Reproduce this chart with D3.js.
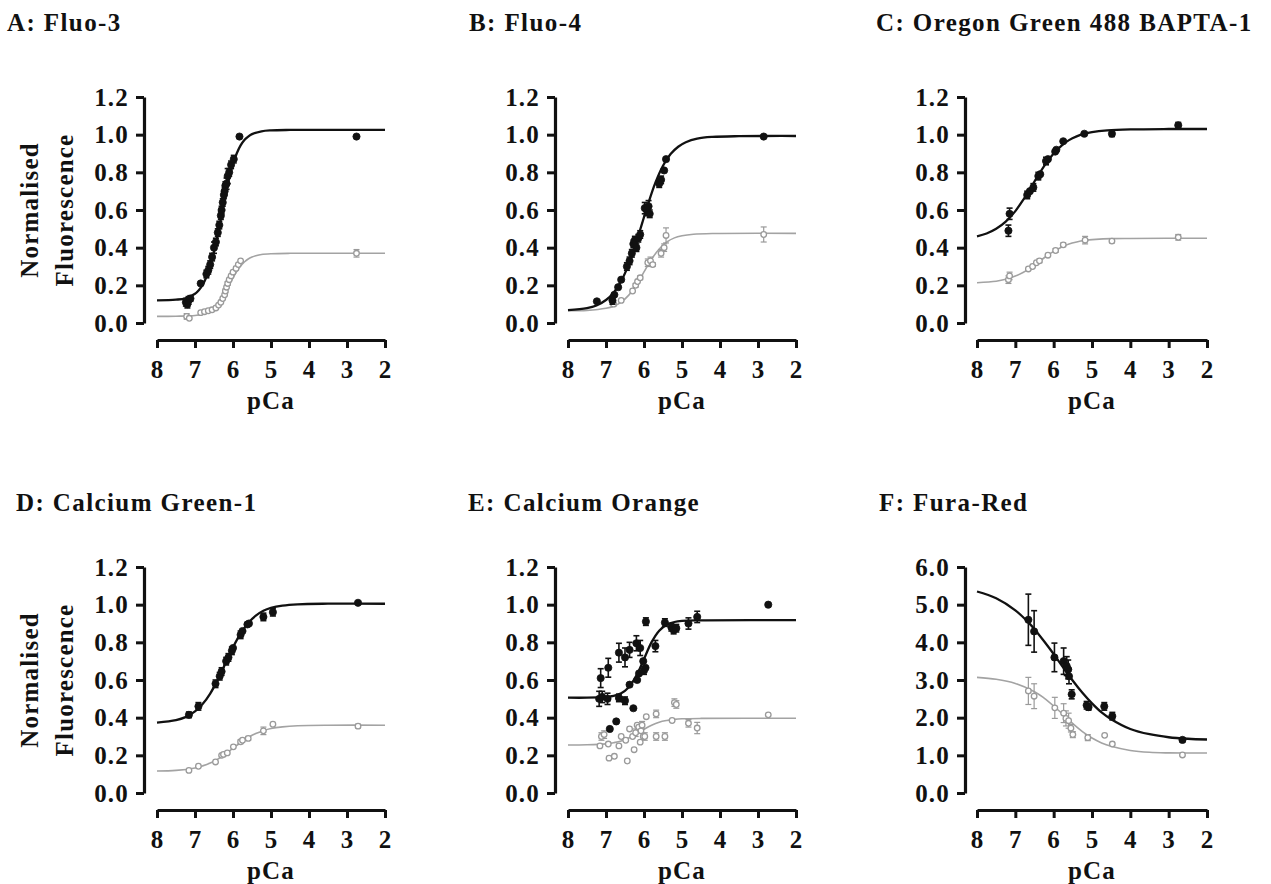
<!DOCTYPE html>
<html>
<head>
<meta charset="utf-8">
<script src="https://cdn.jsdelivr.net/npm/d3@7"></script>
<style>
  html, body { margin: 0; padding: 0; background: #fff; }
  svg text { font-family: "Liberation Serif", "Times New Roman", serif; font-weight: bold; fill: #111; }
</style>
</head>
<body>
<svg id="chart" width="1271" height="884"></svg>
<script>
// ---------------- DATA ----------------
const panelTitles = ["A: Fluo-3", "B: Fluo-4", "C: Oregon Green 488 BAPTA-1",
                     "D: Calcium Green-1", "E: Calcium Orange", "F: Fura-Red"];
const pCaTicks = [8, 7, 6, 5, 4, 3, 2];
const normTicks = [0.0, 0.2, 0.4, 0.6, 0.8, 1.0, 1.2];
const furaTicks = [0.0, 1.0, 2.0, 3.0, 4.0, 5.0, 6.0];
const yLabelLines = ["Normalised", "Fluorescence"];
const xLabel = "pCa";

// points: [pCa, value, error]
const fluo3Dark = [[7.24,0.11,0.02],[7.2,0.10,0.02],[7.17,0.12,0.02],[7.12,0.13,0.015],[6.85,0.21,0],[6.7,0.26,0.02],[6.65,0.28,0.02],[6.6,0.31,0.02],[6.55,0.35,0.02],[6.5,0.40,0.03],[6.45,0.43,0.02],[6.4,0.48,0.02],[6.36,0.52,0.02],[6.32,0.57,0.02],[6.3,0.60,0.02],[6.27,0.64,0.02],[6.24,0.68,0.02],[6.22,0.70,0.02],[6.2,0.73,0.02],[6.17,0.74,0.03],[6.14,0.78,0.04],[6.1,0.80,0.02],[6.05,0.84,0.02],[5.98,0.87,0.02],[5.83,0.99,0],[2.75,0.99,0]];
const fluo3Light = [[7.22,0.035,0.015],[7.15,0.025,0],[6.85,0.055,0],[6.75,0.06,0],[6.65,0.065,0],[6.55,0.07,0],[6.45,0.08,0],[6.38,0.095,0],[6.32,0.11,0],[6.27,0.13,0],[6.22,0.15,0],[6.2,0.17,0.01],[6.17,0.19,0],[6.14,0.21,0.01],[6.1,0.23,0],[6.05,0.25,0],[6.0,0.27,0],[5.92,0.29,0.01],[5.86,0.31,0],[5.8,0.33,0],[2.75,0.37,0.02]];
const fluo3DarkFit = [[8,0.12],[7.5,0.124],[7.25,0.131],[7.0,0.155],[6.9,0.174],[6.8,0.202],[6.7,0.244],[6.6,0.302],[6.5,0.378],[6.4,0.470],[6.3,0.573],[6.2,0.675],[6.1,0.767],[6.0,0.843],[5.9,0.901],[5.8,0.943],[5.7,0.972],[5.6,0.990],[5.5,1.003],[5.25,1.018],[5.0,1.023],[4.5,1.025],[3.5,1.025],[2,1.025]];
const fluo3LightFit = [[8,0.035],[7.5,0.036],[7.0,0.040],[6.8,0.048],[6.7,0.055],[6.6,0.065],[6.5,0.081],[6.4,0.102],[6.3,0.130],[6.2,0.165],[6.1,0.203],[6.0,0.240],[5.9,0.275],[5.8,0.303],[5.7,0.324],[5.6,0.340],[5.5,0.350],[5.4,0.357],[5.25,0.364],[5.0,0.368],[4.5,0.370],[3.5,0.370],[2,0.370]];

const fluo4Dark = [[7.24,0.115,0],[6.83,0.12,0.02],[6.78,0.15,0],[6.68,0.19,0],[6.6,0.23,0],[6.45,0.30,0.02],[6.38,0.33,0.02],[6.32,0.37,0.02],[6.28,0.42,0.02],[6.24,0.44,0.02],[6.2,0.40,0.02],[6.15,0.45,0.02],[6.1,0.47,0.02],[5.98,0.61,0.03],[5.93,0.60,0.03],[5.88,0.62,0.03],[5.85,0.58,0.02],[5.6,0.74,0.02],[5.55,0.76,0.02],[5.47,0.81,0],[5.42,0.87,0],[2.85,0.99,0]];
const fluo4Light = [[6.8,0.10,0.01],[6.6,0.12,0],[6.3,0.17,0],[6.22,0.20,0.01],[6.17,0.22,0],[6.1,0.24,0.01],[5.9,0.32,0.02],[5.83,0.33,0.02],[5.77,0.31,0.01],[5.55,0.37,0.02],[5.47,0.40,0.02],[5.42,0.465,0.04],[2.85,0.47,0.04]];
const fluo4DarkFit = [[8,0.068],[7.5,0.079],[7.25,0.093],[7.0,0.122],[6.8,0.161],[6.6,0.223],[6.4,0.313],[6.2,0.431],[6.05,0.529],[5.9,0.627],[5.7,0.745],[5.5,0.835],[5.3,0.897],[5.1,0.936],[4.9,0.960],[4.6,0.979],[4.2,0.988],[3.5,0.992],[2,0.993]];
const fluo4LightFit = [[8,0.065],[7.5,0.067],[7.0,0.078],[6.8,0.089],[6.6,0.111],[6.4,0.148],[6.2,0.202],[6.0,0.271],[5.8,0.339],[5.6,0.393],[5.4,0.430],[5.2,0.452],[5.0,0.463],[4.7,0.471],[4.2,0.475],[2,0.476]];

const ogbDark = [[7.18,0.49,0.03],[7.15,0.58,0.03],[6.69,0.68,0.02],[6.62,0.70,0],[6.53,0.72,0.02],[6.4,0.78,0.02],[6.35,0.79,0],[6.2,0.86,0.02],[6.15,0.87,0],[5.96,0.91,0],[5.93,0.92,0],[5.75,0.965,0],[5.2,1.005,0],[4.48,1.005,0.015],[2.75,1.05,0.015]];
const ogbLight = [[7.18,0.23,0.02],[7.15,0.25,0.02],[6.66,0.287,0],[6.55,0.30,0],[6.45,0.32,0],[6.37,0.33,0.01],[6.15,0.36,0],[5.95,0.385,0.01],[5.75,0.415,0.01],[5.18,0.44,0.02],[4.48,0.435,0.01],[2.75,0.455,0.015]];
const ogbDarkFit = [[8,0.460],[7.75,0.475],[7.5,0.500],[7.25,0.538],[7.0,0.594],[6.8,0.652],[6.6,0.718],[6.4,0.785],[6.2,0.848],[6.0,0.900],[5.8,0.941],[5.6,0.971],[5.4,0.991],[5.2,1.005],[5.0,1.014],[4.6,1.023],[4.0,1.028],[3.0,1.030],[2,1.030]];
const ogbLightFit = [[8,0.214],[7.5,0.222],[7.25,0.232],[7.0,0.249],[6.8,0.268],[6.6,0.293],[6.4,0.322],[6.2,0.353],[6.0,0.380],[5.8,0.402],[5.6,0.419],[5.4,0.430],[5.2,0.438],[4.9,0.444],[4.5,0.448],[4.0,0.449],[2,0.450]];

const cg1Dark = [[7.16,0.415,0.015],[6.91,0.46,0.02],[6.46,0.58,0.02],[6.35,0.62,0.02],[6.3,0.645,0.02],[6.18,0.70,0.02],[6.12,0.72,0.02],[6.03,0.755,0.02],[6.0,0.77,0],[5.8,0.84,0.02],[5.75,0.86,0],[5.62,0.895,0.01],[5.58,0.90,0],[5.2,0.935,0.02],[4.95,0.96,0.02],[2.71,1.01,0]];
const cg1Light = [[7.16,0.12,0],[6.91,0.142,0],[6.46,0.165,0],[6.3,0.20,0],[6.25,0.205,0],[6.15,0.213,0],[5.99,0.245,0],[5.8,0.272,0.01],[5.75,0.28,0],[5.6,0.29,0.01],[5.2,0.33,0.02],[4.95,0.365,0],[2.71,0.355,0.01]];
const cg1DarkFit = [[8,0.374],[7.5,0.387],[7.25,0.403],[7.0,0.433],[6.8,0.472],[6.6,0.528],[6.4,0.602],[6.2,0.688],[6.0,0.773],[5.8,0.847],[5.6,0.903],[5.4,0.942],[5.2,0.968],[5.0,0.983],[4.7,0.995],[4.3,1.002],[3.5,1.005],[2,1.005]];
const cg1LightFit = [[8,0.117],[7.5,0.120],[7.0,0.133],[6.8,0.144],[6.6,0.159],[6.4,0.180],[6.2,0.207],[6.0,0.238],[5.8,0.268],[5.6,0.295],[5.4,0.316],[5.2,0.331],[5.0,0.342],[4.7,0.351],[4.3,0.357],[3.5,0.360],[2,0.360]];

const corDark = [[7.14,0.61,0.05],[6.94,0.665,0.05],[6.66,0.745,0.05],[6.5,0.72,0.05],[6.38,0.76,0.04],[6.2,0.795,0.04],[6.1,0.77,0.04],[5.95,0.91,0.02],[5.7,0.78,0.03],[5.45,0.905,0.02],[5.28,0.88,0.02],[5.22,0.865,0.02],[5.15,0.875,0.02],[4.83,0.90,0.03],[4.6,0.935,0.03],[2.73,1.0,0],[7.18,0.50,0.04],[7.1,0.51,0.03],[6.96,0.50,0.03],[6.66,0.505,0.02],[6.5,0.49,0.02],[6.28,0.45,0],[6.38,0.575,0],[6.18,0.60,0],[6.13,0.635,0],[6.0,0.65,0.02],[5.96,0.665,0],[6.02,0.70,0],[6.73,0.38,0],[6.9,0.34,0]];
const corLight = [[7.16,0.25,0],[7.12,0.30,0.02],[7.05,0.31,0.02],[6.94,0.26,0],[6.92,0.185,0],[6.78,0.195,0],[6.66,0.25,0],[6.6,0.30,0],[6.48,0.28,0],[6.44,0.17,0],[6.38,0.34,0],[6.3,0.30,0],[6.26,0.23,0],[6.22,0.32,0.02],[6.18,0.36,0],[6.14,0.35,0.02],[6.1,0.27,0],[6.08,0.33,0],[6.05,0.36,0.02],[6.02,0.30,0],[5.98,0.30,0.02],[5.94,0.405,0],[5.68,0.42,0.02],[5.68,0.30,0.02],[5.45,0.30,0.02],[5.26,0.385,0],[5.2,0.48,0.02],[5.15,0.47,0.02],[4.83,0.37,0.02],[4.6,0.345,0.03],[2.73,0.415,0]];
const corDarkFit = [[8,0.506],[7.5,0.506],[7.0,0.510],[6.8,0.516],[6.6,0.530],[6.4,0.562],[6.2,0.623],[6.0,0.712],[5.8,0.801],[5.6,0.862],[5.4,0.894],[5.2,0.908],[5.0,0.914],[4.6,0.917],[2,0.918]];
const corLightFit = [[8,0.255],[7.5,0.256],[7.0,0.261],[6.8,0.267],[6.6,0.276],[6.4,0.292],[6.2,0.314],[6.0,0.338],[5.8,0.360],[5.6,0.376],[5.4,0.385],[5.2,0.391],[5.0,0.394],[4.5,0.396],[2,0.397]];

const furaDark = [[6.66,4.6,0.68],[6.51,4.29,0.55],[5.98,3.6,0.38],[5.74,3.5,0.35],[5.66,3.37,0.25],[5.62,3.28,0.25],[5.6,3.1,0.2],[5.53,2.62,0.12],[5.14,2.33,0.1],[5.09,2.28,0.08],[4.68,2.3,0.1],[4.47,2.04,0.1],[2.64,1.41,0.05]];
const furaLight = [[6.66,2.71,0.36],[6.51,2.57,0.33],[5.97,2.26,0.28],[5.74,2.12,0.25],[5.68,1.98,0.2],[5.61,1.92,0.2],[5.55,1.72,0.1],[5.5,1.55,0.08],[5.11,1.47,0.08],[4.67,1.53,0],[4.47,1.30,0],[2.64,1.01,0]];
const furaDarkFit = [[8,5.35],[7.5,5.17],[7.0,4.85],[6.66,4.53],[6.5,4.35],[6.25,4.03],[6.0,3.69],[5.75,3.33],[5.5,2.98],[5.25,2.66],[5.0,2.38],[4.75,2.14],[4.5,1.96],[4.0,1.70],[3.5,1.56],[3.0,1.48],[2.5,1.44],[2,1.42]];
const furaLightFit = [[8,3.07],[7.5,3.02],[7.0,2.91],[6.5,2.69],[6.25,2.52],[6.0,2.31],[5.75,2.08],[5.5,1.84],[5.25,1.63],[5.0,1.46],[4.75,1.33],[4.5,1.24],[4.0,1.13],[3.5,1.08],[3.0,1.065],[2,1.06]];

// ---------------- LAYOUT ----------------
const colX = [{yAxis:144, x0:157, x1:385, tx:7},
              {yAxis:555, x0:568, x1:796, tx:469},
              {yAxis:965, x0:977, x1:1207, tx:876}];
const rowY = [{yTop:97, yBot:323, xAxis:340, ty:31},
              {yTop:567, yBot:793, xAxis:810, ty:511}];
const titleX = [7, 469, 876, 16, 468, 879];

const panels = [
  {title: panelTitles[0], ticks: normTicks, dark: fluo3Dark, light: fluo3Light, darkFit: fluo3DarkFit, lightFit: fluo3LightFit, ylab: true},
  {title: panelTitles[1], ticks: normTicks, dark: fluo4Dark, light: fluo4Light, darkFit: fluo4DarkFit, lightFit: fluo4LightFit, ylab: false},
  {title: panelTitles[2], ticks: normTicks, dark: ogbDark, light: ogbLight, darkFit: ogbDarkFit, lightFit: ogbLightFit, ylab: false},
  {title: panelTitles[3], ticks: normTicks, dark: cg1Dark, light: cg1Light, darkFit: cg1DarkFit, lightFit: cg1LightFit, ylab: true},
  {title: panelTitles[4], ticks: normTicks, dark: corDark, light: corLight, darkFit: corDarkFit, lightFit: corLightFit, ylab: false},
  {title: panelTitles[5], ticks: furaTicks, dark: furaDark, light: furaLight, darkFit: furaDarkFit, lightFit: furaLightFit, ylab: false}
];

const svg = d3.select("#chart");
svg.append("rect").attr("width", 1271).attr("height", 884).attr("fill", "#fff");

const DARK = "#111";
const LIGHT = "#a3a3a3";
const fmt = d3.format(".1f");

panels.forEach((p, i) => {
  const c = colX[i % 3], r = rowY[Math.floor(i / 3)];
  const x = d3.scaleLinear().domain([8, 2]).range([c.x0, c.x1]);
  const y = d3.scaleLinear().domain([p.ticks[0], p.ticks[p.ticks.length - 1]]).range([r.yBot, r.yTop]);
  const g = svg.append("g");

  // title
  g.append("text").attr("x", titleX[i]).attr("y", r.ty)
    .attr("font-size", 25).attr("letter-spacing", "1.4px").text(p.title);

  // x axis
  const xa = g.append("g").attr("transform", `translate(0,${r.xAxis})`)
    .call(d3.axisBottom(x).tickValues(pCaTicks).tickSize(8).tickSizeOuter(0).tickPadding(12).tickFormat(d3.format("d")));
  // y axis
  const ya = g.append("g").attr("transform", `translate(${c.yAxis},0)`)
    .call(d3.axisLeft(y).tickValues(p.ticks).tickSize(8).tickSizeOuter(0).tickPadding(7).tickFormat(fmt));
  [xa, ya].forEach(a => {
    a.select(".domain").attr("stroke", DARK).attr("stroke-width", 3.2);
    a.selectAll(".tick line").attr("stroke", DARK).attr("stroke-width", 3);
    a.selectAll(".tick text").attr("font-size", 25).attr("letter-spacing", "1.2px")
      .attr("fill", DARK).style("font-family", '"Liberation Serif", "Times New Roman", serif').style("font-weight", "bold");
  });

  // x label
  g.append("text").attr("x", (c.x0 + c.x1) / 2).attr("y", r.xAxis + 69)
    .attr("text-anchor", "middle").attr("font-size", 25).attr("letter-spacing", "1.2px").text(xLabel);

  // y label
  if (p.ylab) {
    const cy = (r.yTop + r.yBot) / 2;
    [38, 73].forEach((bx, k) => {
      g.append("text").attr("transform", `translate(${bx},${cy}) rotate(-90)`)
        .attr("text-anchor", "middle").attr("font-size", 25).attr("letter-spacing", "1.2px")
        .text(yLabelLines[k]);
    });
  }

  // fit curves
  const line = d3.line().x(d => x(d[0])).y(d => y(d[1])).curve(d3.curveCatmullRom.alpha(0.5));
  g.append("path").datum(p.lightFit).attr("d", line).attr("fill", "none")
    .attr("stroke", LIGHT).attr("stroke-width", 1.6);
  g.append("path").datum(p.darkFit).attr("d", line).attr("fill", "none")
    .attr("stroke", DARK).attr("stroke-width", 2.3);

  // error bars + points
  function drawSeries(data, color, filled, sw) {
    const eb = g.append("g").attr("stroke", color).attr("stroke-width", sw);
    data.filter(d => d[2] > 0).forEach(d => {
      const px = x(d[0]), y1 = y(d[1] - d[2]), y2 = y(d[1] + d[2]);
      eb.append("line").attr("x1", px).attr("x2", px).attr("y1", y1).attr("y2", y2);
      eb.append("line").attr("x1", px - 3).attr("x2", px + 3).attr("y1", y1).attr("y2", y1);
      eb.append("line").attr("x1", px - 3).attr("x2", px + 3).attr("y1", y2).attr("y2", y2);
    });
    g.append("g").selectAll("circle").data(data).join("circle")
      .attr("cx", d => x(d[0])).attr("cy", d => y(d[1]))
      .attr("r", filled ? 3.6 : 2.8)
      .attr("fill", filled ? color : "#fff")
      .attr("stroke", color).attr("stroke-width", filled ? 0.8 : 1.3);
  }
  drawSeries(p.light, "#9a9a9a", false, 1.2);
  drawSeries(p.dark, DARK, true, 1.6);
});
</script>
</body>
</html>
